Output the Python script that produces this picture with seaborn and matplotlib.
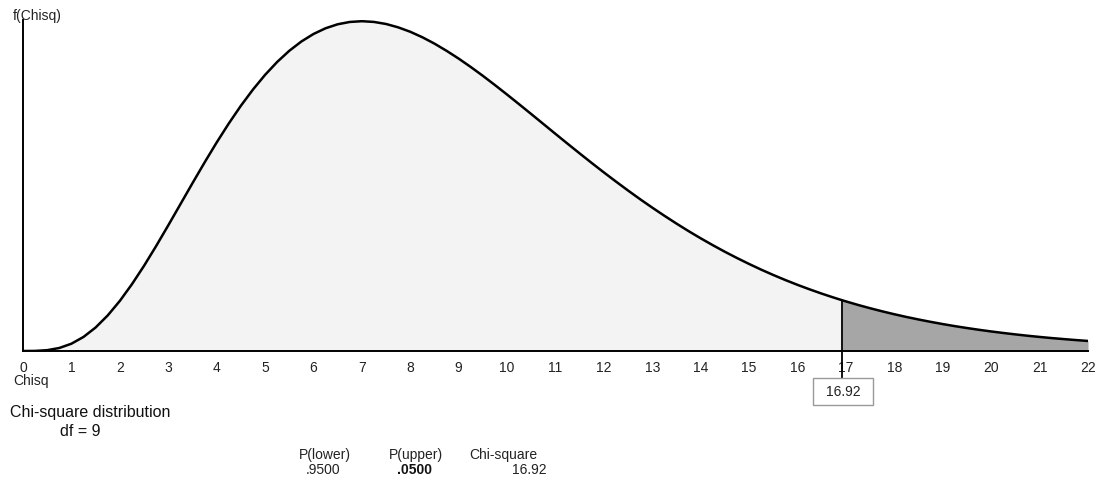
import matplotlib
matplotlib.use("Agg")
import matplotlib.pyplot as plt
from matplotlib.patches import Rectangle
import seaborn as sns
import numpy as np
import pandas as pd

# ---- data ----
df_value = 9
critical_value = 16.92
p_lower = ".9500"
p_upper = ".0500"
chi_label = "16.92"
x_ticks = list(range(0, 23))

chisq_x = [0.0, 0.25, 0.5, 0.75, 1.0, 1.25, 1.5, 1.75, 2.0, 2.25, 2.5, 2.75,
           3.0, 3.25, 3.5, 3.75, 4.0, 4.25, 4.5, 4.75, 5.0, 5.25, 5.5, 5.75,
           6.0, 6.25, 6.5, 6.75, 7.0, 7.25, 7.5, 7.75, 8.0, 8.25, 8.5, 8.75,
           9.0, 9.25, 9.5, 9.75, 10.0, 10.25, 10.5, 10.75, 11.0, 11.25, 11.5,
           11.75, 12.0, 12.25, 12.5, 12.75, 13.0, 13.25, 13.5, 13.75, 14.0,
           14.25, 14.5, 14.75, 15.0, 15.25, 15.5, 15.75, 16.0, 16.25, 16.5,
           16.75, 16.92, 17.0, 17.25, 17.5, 17.75, 18.0, 18.25, 18.5, 18.75,
           19.0, 19.25, 19.5, 19.75, 20.0, 20.25, 20.5, 20.75, 21.0, 21.25,
           21.5, 21.75, 22.0]
density = [0.0, 0.00003, 0.00026, 0.00095, 0.00230, 0.00444, 0.00742, 0.01123,
           0.01581, 0.02108, 0.02689, 0.03313, 0.03965, 0.04630, 0.05296,
           0.05950, 0.06582, 0.07181, 0.07741, 0.08254, 0.08717, 0.09125,
           0.09477, 0.09771, 0.10008, 0.10189, 0.10315, 0.10388, 0.10412,
           0.10389, 0.10324, 0.10218, 0.10078, 0.09905, 0.09704, 0.09477,
           0.09231, 0.08966, 0.08687, 0.08395, 0.08095, 0.07789, 0.07479,
           0.07167, 0.06854, 0.06544, 0.06237, 0.05934, 0.05637, 0.05348,
           0.05065, 0.04790, 0.04525, 0.04269, 0.04022, 0.03784, 0.03557,
           0.03340, 0.03132, 0.02935, 0.02747, 0.02568, 0.02399, 0.02239,
           0.02088, 0.01946, 0.01811, 0.01685, 0.01603, 0.01566, 0.01454,
           0.01350, 0.01252, 0.01160, 0.01074, 0.00995, 0.00920, 0.00850,
           0.00785, 0.00725, 0.00669, 0.00617, 0.00569, 0.00524, 0.00482,
           0.00444, 0.00408, 0.00376, 0.00345, 0.00317]

data = pd.DataFrame({"x": chisq_x, "f": density})

W, H = 1100, 479
sns.set_theme(style="white")
plt.rcParams['font.family'] = ['Liberation Sans', 'DejaVu Sans']

fig = plt.figure(figsize=(W / 100, H / 100), dpi=100)
def fx(px): return px / W
def fy(py): return 1 - py / H

left, right, top, bottom = 23, 1088, 20, 351
ax = fig.add_axes([fx(left), fy(bottom), (right - left) / W, (bottom - top) / H])

xs = np.array(chisq_x)
ys = np.array(density)
ax.fill_between(xs, 0, ys, where=xs <= critical_value, color="#f3f3f3", linewidth=0)
ax.fill_between(xs, 0, ys, where=xs >= critical_value, color="#a6a6a6", linewidth=0)
sns.lineplot(data=data, x="x", y="f", ax=ax, color="black", linewidth=1.8)

crit_f = density[chisq_x.index(critical_value)]
ax.plot([critical_value, critical_value], [-0.0085, crit_f], color="black",
        linewidth=1.3, clip_on=False)

ax.set_xlim(0, 22)
ax.set_ylim(0, 0.1045)
ax.set_xticks(x_ticks)
ax.set_xticklabels([str(t) for t in x_ticks], fontsize=10, color="#222222")
ax.set_yticks([])
ax.set_xlabel("")
ax.set_ylabel("")
for s in ["top", "right"]:
    ax.spines[s].set_visible(False)
for s in ["left", "bottom"]:
    ax.spines[s].set_color("black")
    ax.spines[s].set_linewidth(1.4)
ax.tick_params(axis="x", direction="out", length=4, width=1.2, pad=3.5, color="black")
ax.patch.set_alpha(0)

# texts
fig.text(fx(13), fy(16), "f(Chisq)", fontsize=10, va="center", ha="left", color="#222222")
fig.text(fx(13), fy(381), "Chisq", fontsize=10, va="center", ha="left", color="#222222")
fig.text(fx(10), fy(412), "Chi-square distribution", fontsize=11.5, va="center",
         ha="left", color="#111111")
fig.text(fx(60), fy(432), f"df = {df_value}", fontsize=11.5, va="center",
         ha="left", color="#111111")

# value box under the critical value
fig.add_artist(Rectangle((fx(813), fy(405)), 60 / W, 27 / H, transform=fig.transFigure,
                         facecolor="white", edgecolor="#999999", linewidth=1.0))
fig.text(fx(843), fy(392), chi_label, fontsize=10, va="center", ha="center", color="#222222")

fig.text(fx(299), fy(455), "P(lower)", fontsize=10, va="center", ha="left", color="#222222")
fig.text(fx(389), fy(455), "P(upper)", fontsize=10, va="center", ha="left", color="#222222")
fig.text(fx(469), fy(455), "Chi-square", fontsize=10, va="center", ha="left", color="#222222")
fig.text(fx(340), fy(470), p_lower, fontsize=10, va="center", ha="right", color="#222222")
fig.text(fx(432), fy(470), p_upper, fontsize=10, va="center", ha="right",
         fontweight="bold", color="#111111")
fig.text(fx(547), fy(470), chi_label, fontsize=10, va="center", ha="right", color="#222222")

fig.savefig("out.png", dpi=100, facecolor="white")
